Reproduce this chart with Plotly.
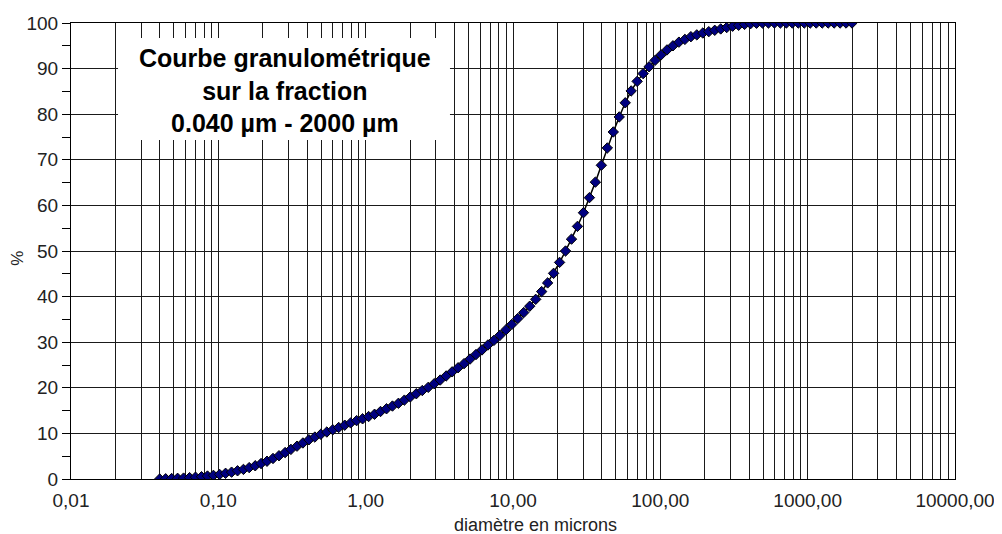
import plotly.graph_objects as go

# channel sizes (microns) and cumulative percentage
diam = [0.04, 0.0439, 0.0482, 0.0529, 0.0581, 0.0638, 0.07, 0.0769, 0.0844, 0.0926,
        0.102, 0.112, 0.123, 0.135, 0.148, 0.162, 0.178, 0.195, 0.214, 0.235,
        0.258, 0.284, 0.311, 0.342, 0.375, 0.412, 0.452, 0.496, 0.545, 0.598,
        0.656, 0.721, 0.791, 0.868, 0.953, 1.047, 1.149, 1.261, 1.385, 1.520,
        1.669, 1.832, 2.010, 2.207, 2.423, 2.660, 2.920, 3.205, 3.519, 3.863,
        4.240, 4.655, 5.110, 5.610, 6.158, 6.760, 7.421, 8.147, 8.944, 9.819,
        10.78, 11.83, 12.99, 14.26, 15.65, 17.18, 18.86, 20.71, 22.73, 24.95,
        27.39, 30.07, 33.01, 36.24, 39.78, 43.67, 47.94, 52.62, 57.77, 63.41,
        69.61, 76.42, 83.89, 92.09, 101.1, 111.0, 121.8, 133.7, 146.8, 161.2,
        176.8, 194.2, 213.2, 234.1, 256.9, 282.1, 309.6, 339.9, 373.1, 409.6,
        449.7, 493.6, 541.9, 594.9, 653.0, 716.8, 786.9, 863.9, 948.3, 1041,
        1143, 1255, 1377, 1512, 1660, 1822, 2000]

pct = [0.0, 0.05, 0.1, 0.15, 0.2, 0.3, 0.4, 0.5, 0.65, 0.8,
       1.0, 1.25, 1.5, 1.8, 2.1, 2.5, 2.9, 3.4, 3.9, 4.5,
       5.1, 5.8, 6.5, 7.2, 7.9, 8.6, 9.2, 9.8, 10.3, 10.8,
       11.3, 11.8, 12.3, 12.8, 13.2, 13.7, 14.2, 14.8, 15.4, 16.0,
       16.6, 17.3, 18.0, 18.7, 19.4, 20.1, 20.9, 21.7, 22.6, 23.5,
       24.4, 25.3, 26.3, 27.3, 28.3, 29.4, 30.4, 31.5, 32.7, 33.9,
       35.2, 36.5, 37.9, 39.4, 41.1, 43.0, 45.1, 47.5, 50.0, 52.6,
       55.4, 58.4, 61.7, 65.1, 68.8, 72.6, 76.1, 79.4, 82.5, 85.1,
       87.2, 88.9, 90.4, 91.8, 93.0, 94.1, 95.0, 95.8, 96.4, 97.0,
       97.4, 97.8, 98.1, 98.4, 98.7, 99.0, 99.3, 99.5, 99.7, 99.85,
       99.95, 100, 100, 100, 100, 100, 100, 100, 100, 100,
       100, 100, 100, 100, 100, 100, 100]

decades = [0.01, 0.1, 1, 10, 100, 1000, 10000]
decade_labels = ['0,01', '0,10', '1,00', '10,00', '100,00', '1000,00', '10000,00']

# grid at every 1..9 multiple, labels only on decades
grid_vals, grid_text = [], []
for d, lab in zip(decades, decade_labels):
    for m in range(1, 10):
        if d == 10000 and m > 1:
            break
        grid_vals.append(d * m)
        grid_text.append(lab if m == 1 else '')

fig = go.Figure()
fig.add_trace(go.Scatter(
    x=diam, y=pct, mode='lines+markers',
    line=dict(color='black', width=1.5),
    marker=dict(symbol='diamond', size=8, color='#000080',
                line=dict(color='black', width=1)),
    showlegend=False
))

# the page body has an 8px margin, so the figure is sized to fit inside it
grid_col = '#1a1a1a'
fig.update_layout(
    width=994, height=526,
    plot_bgcolor='white', paper_bgcolor='white',
    font=dict(family='Liberation Sans, Arial', size=19, color='#222'),
    margin=dict(l=63, r=47, t=15, b=55),
    xaxis=dict(
        type='log', range=[-2, 4],
        tickvals=grid_vals, ticktext=grid_text, ticks='',
        ticklabelstandoff=4,
        showgrid=True, gridcolor=grid_col, gridwidth=1,
        showline=True, linecolor='black', linewidth=1, mirror=True,
        zeroline=False, automargin=False
    ),
    yaxis=dict(
        range=[0, 100], dtick=10,
        ticks='outside', ticklen=8, tickcolor='black',
        minor=dict(dtick=5, ticks='outside', ticklen=8, tickcolor='black', showgrid=False),
        showgrid=True, gridcolor=grid_col, gridwidth=1,
        showline=True, linecolor='black', linewidth=1, mirror=True,
        zeroline=False, automargin=False
    )
)

# white box behind the title text
fig.add_shape(type='rect', xref='paper', yref='paper',
              x0=0.0532, x1=0.4287, y0=0.7434, y1=0.9671,
              fillcolor='white', line=dict(width=0), layer='above')
fig.add_annotation(
    xref='paper', yref='paper', x=0.242, y=0.853,
    xanchor='center', yanchor='middle',
    text='<b>Courbe granulométrique<br>sur la fraction<br>0.040 µm - 2000 µm</b>',
    showarrow=False, align='center',
    font=dict(family='Liberation Sans, Arial', size=25, color='black')
)

fig.add_annotation(
    xref='paper', yref='paper', x=0.525, y=-0.1,
    xanchor='center', yanchor='middle',
    text='diamètre en microns', showarrow=False,
    font=dict(size=18, color='#222')
)
fig.add_annotation(
    xref='paper', yref='paper', x=-0.06, y=0.485,
    xanchor='center', yanchor='middle',
    text='%', textangle=-90, showarrow=False,
    font=dict(size=17, color='#222')
)

fig.write_html("out.html")
